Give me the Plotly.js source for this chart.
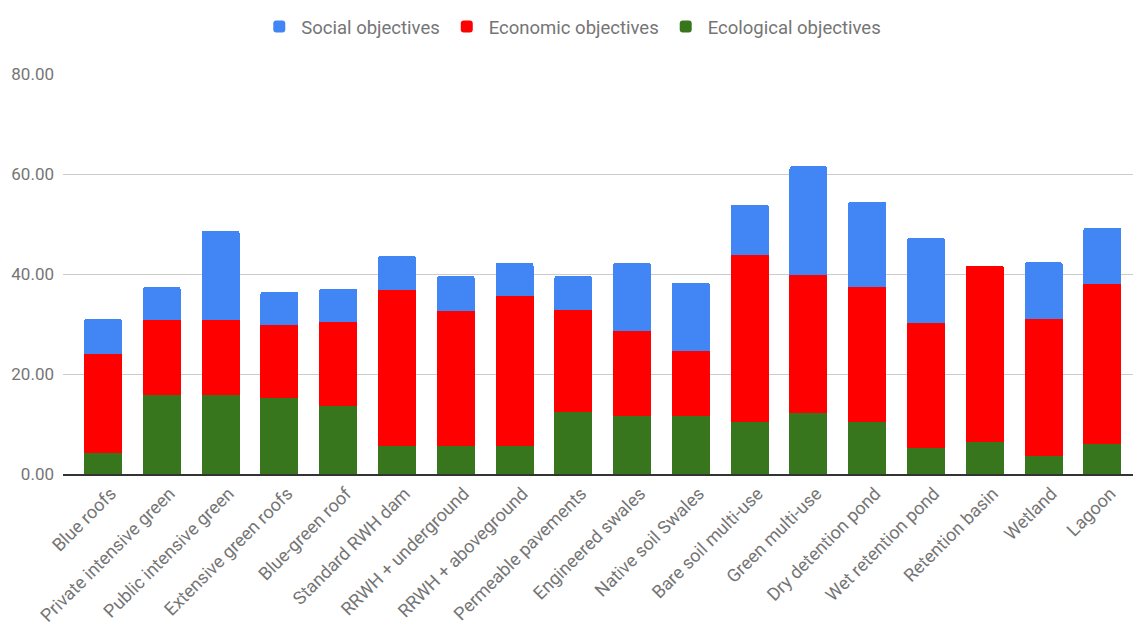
<!DOCTYPE html>
<html>
<head>
<meta charset="utf-8">
<script src="https://cdn.plot.ly/plotly-3.0.1.min.js"></script>
<style>html,body{margin:0;padding:0;background:#fff;}#chart{width:1133px;height:625px;}</style>
</head>
<body>
<div id="chart"></div>
<script>
const categories = ["Blue roofs","Private intensive green","Public intensive green","Extensive green roofs","Blue-green roof","Standard RWH dam","RRWH + underground","RRWH + aboveground","Permeable pavements","Engineered swales","Native soil Swales","Bare soil multi-use","Green multi-use","Dry detention pond","Wet retention pond","Retention basin","Wetland","Lagoon"];
const ecological = [4.3,15.9,15.9,15.3,13.7,5.7,5.7,5.7,12.5,11.6,11.6,10.4,12.2,10.4,5.2,6.4,3.7,6.1];
const economic = [19.8,14.9,14.9,14.6,16.8,31.2,27.0,30.0,20.4,17.1,13.1,33.5,27.7,27.1,25.0,35.3,27.4,32.0];
const social = [6.9,6.6,17.9,6.6,6.6,6.7,6.9,6.6,6.7,13.6,13.6,10.0,21.7,17.0,17.0,0,11.3,11.2];
const yTicks = [0,20,40,60,80];

const traces = [
  {type:'bar', name:'Ecological objectives', x:categories, y:ecological, marker:{color:'#38761D'}},
  {type:'bar', name:'Economic objectives', x:categories, y:economic, marker:{color:'#FF0000'}},
  {type:'bar', name:'Social objectives', x:categories, y:social, marker:{color:'#4285F4'}}
];
const layout = {
  width:1133, height:625,
  barmode:'stack', bargap:0.354, barcornerradius:3,
  margin:{l:63, r:0, t:74, b:151, autoexpand:false},
  paper_bgcolor:'#fff', plot_bgcolor:'#fff',
  font:{family:'Roboto, sans-serif', color:'#757575', size:16},
  showlegend:true,
  legend:{orientation:'h', traceorder:'reversed', x:0.4755, xanchor:'center', y:1.1175, yanchor:'middle', itemwidth:34, font:{size:18.5, color:'#757575'}},
  xaxis:{automargin:false, range:[-0.68,17.52], tickangle:-45, showgrid:false, showline:true, linecolor:'#333', linewidth:2, ticks:'', tickfont:{size:18, color:'#757575'}, ticklabelshift:8},
  yaxis:{automargin:false, range:[0,80], tickvals:yTicks, tickformat:'.2f', gridcolor:'#cccccc', zeroline:false, showline:false, ticks:'', tickfont:{size:17, color:'#757575'}, ticklabelstandoff:8}
};
Plotly.newPlot('chart', traces, layout, {staticPlot:true, displayModeBar:false});
</script>
</body>
</html>
